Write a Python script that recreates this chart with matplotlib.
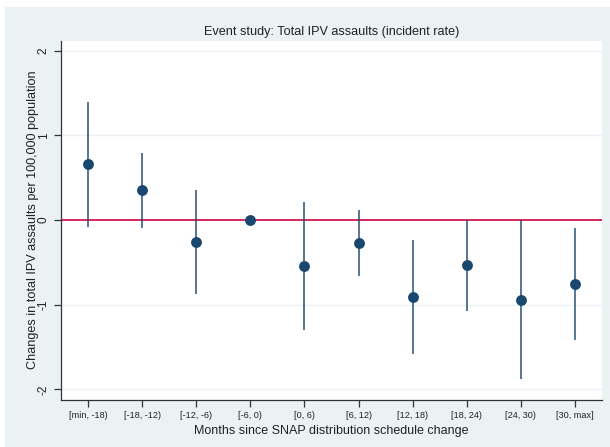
import matplotlib
matplotlib.use("Agg")
import matplotlib.pyplot as plt
from matplotlib.patches import Rectangle

categories = ["[min, -18)", "[-18, -12)", "[-12, -6)", "[-6, 0)", "[0, 6)",
              "[6, 12)", "[12, 18)", "[18, 24)", "[24, 30)", "[30, max]"]
estimates = [0.66, 0.35, -0.255, 0.0, -0.545, -0.265, -0.91, -0.535, -0.94, -0.755]
ci_low = [-0.08, -0.09, -0.87, 0.0, -1.30, -0.66, -1.58, -1.08, -1.88, -1.42]
ci_high = [1.40, 0.79, 0.36, 0.0, 0.21, 0.125, -0.24, 0.0, 0.0, -0.09]
yticks = [-2, -1, 0, 1, 2]

plt.rcParams['font.family'] = ['Liberation Sans', 'DejaVu Sans']

W, H = 610, 447
fig = plt.figure(figsize=(W / 100, H / 100), dpi=100, facecolor="white")
bg = "#eaf2f3"
fig.patches.append(Rectangle((5 / W, 0), 1 - 5 / W, 1 - 7 / H, transform=fig.transFigure,
                             facecolor=bg, edgecolor="none", zorder=-10))

ax = fig.add_axes([61 / W, 1 - 399.5 / H, (602 - 61) / W, (399.5 - 40.7) / H])
ax.set_zorder(1)
ax.set_facecolor("white")

x = list(range(1, len(categories) + 1))
navy = "#1a476f"
ax.axhline(0, color="#d2174f", lw=1.3, zorder=2)
for xi, lo, hi in zip(x, ci_low, ci_high):
    if hi != lo:
        ax.vlines(xi, lo, hi, color=navy, lw=1.3, alpha=0.8, zorder=3)
ax.plot(x, estimates, "o", color=navy, markersize=6.8, zorder=4)

ax.set_xlim(0.5, 10.5)
ax.set_ylim(-2.12, 2.12)
ax.set_yticks(yticks)
ax.set_yticklabels([str(v) for v in yticks], rotation=90, va="center", fontsize=8.5)
ax.set_xticks(x)
ax.set_xticklabels(categories, fontsize=6.6)
for yv in yticks:
    if yv != 0:
        ax.axhline(yv, color=bg, lw=1.0, zorder=1)

for s in ["top", "right"]:
    ax.spines[s].set_visible(False)
for s in ["left", "bottom"]:
    ax.spines[s].set_color("#333333")
    ax.spines[s].set_linewidth(0.9)
ax.tick_params(axis="both", direction="out", length=5, width=0.9, color="#333333",
               labelcolor="#222222", pad=3)

ax.set_title("Event study: Total IPV assaults (incident rate)", fontsize=9.1,
             color="#222222", pad=4)
ax.set_xlabel("Months since SNAP distribution schedule change", fontsize=9,
              color="#222222", labelpad=4)
ax.set_ylabel("Changes in total IPV assaults per 100,000 population", fontsize=9.1,
              color="#222222", labelpad=-1)

fig.savefig("out.png", dpi=100, facecolor="white")
